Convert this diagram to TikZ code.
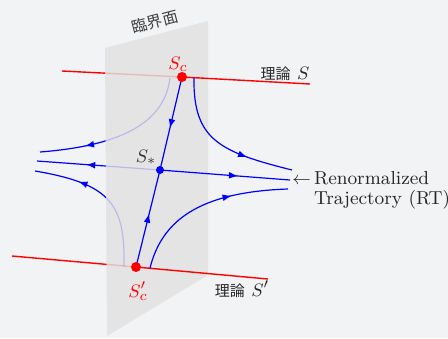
\documentclass[tikz,border=0pt]{standalone}
\usepackage{fontspec}
\newfontfamily\cjk{Noto Sans CJK JP}
\usetikzlibrary{arrows.meta,decorations.markings}
\definecolor{bgcol}{RGB}{242,243,245}
\definecolor{planecol}{RGB}{228,228,228}
\begin{document}
\begin{tikzpicture}[x=0.5pt,y=-0.5pt,
  font=\fontsize{9.4}{9.5}\selectfont,
  flow/.style={blue,line width=0.6pt},
  theory/.style={red,line width=0.7pt},
  hidden/.style={draw opacity=0.18},
  midarrow/.style={postaction={decorate},decoration={markings,mark=at position #1 with {\arrow{Latex[length=4.5pt,width=3.4pt]}}}},
  fixpt/.style={circle,fill,inner sep=0pt,minimum size=#1}]
% canvas
\fill[bgcol] (0,0) rectangle (448,338);
\useasboundingbox (0,0) rectangle (448,338);
% fixed points and line ends
\coordinate (Sc) at (182,77); \coordinate (Scp) at (136,267); \coordinate (Sst) at (160,170);
\coordinate (Sa) at (62,71); \coordinate (Sb) at (310,84);
\coordinate (Spa) at (12,256); \coordinate (Spb) at (268,279);
\coordinate (rta) at (37,161); \coordinate (rtb) at (290,180);
% flow curve ends
\coordinate (ula) at (170,78); \coordinate (ulb) at (40,152);
\coordinate (lla) at (124,266); \coordinate (llb) at (35,171);
\coordinate (ura) at (194,78); \coordinate (urb) at (292,170);
\coordinate (lra) at (150,268); \coordinate (lrb) at (288,189);
% behind the critical surface
\draw[theory] (Sa) -- (Sc);
\draw[theory] (Spa) -- (Scp);
\draw[flow,midarrow=0.6] (Sst) -- (rta);
\draw[flow,midarrow=0.72] (ula) .. controls (165,118) and (130,145) .. (ulb);
\draw[flow,midarrow=0.7] (lla) .. controls (125,205) and (112,184) .. (llb);
% critical surface (hidden parts seen through it)
\fill[planecol] (105,48) -- (208,21) -- (208,275) -- (107,336) -- cycle;
\begin{scope}
  \clip (105,48) -- (208,21) -- (208,275) -- (107,336) -- cycle;
  \draw[theory,hidden] (Sa) -- (Sc);
  \draw[theory,hidden] (Spa) -- (Scp);
  \draw[flow,hidden] (Sst) -- (rta);
  \draw[flow,hidden] (ula) .. controls (165,118) and (130,145) .. (ulb);
  \draw[flow,hidden] (lla) .. controls (125,205) and (112,184) .. (llb);
\end{scope}
\node[rotate=14.7,text=black!75,font=\cjk\fontsize{7.8}{8}\selectfont] (crit) at (155,22) {臨界面};
% in front of it
\draw[theory] (Sc) -- (Sb);
\draw[theory] (Scp) -- (Spb);
\draw[flow,midarrow=0.6] (Sst) -- (rtb);
\draw[flow,midarrow=0.55] (Sc) -- (Sst);
\draw[flow,midarrow=0.55] (Scp) -- (Sst);
\draw[flow,midarrow=0.69] (ura) .. controls (193,140) and (220,152) .. (urb);
\draw[flow,midarrow=0.67] (lra) .. controls (162,220) and (200,192) .. (lrb);
% dots
\node[fixpt=5pt,red] (nSc) at (Sc) {};
\node[fixpt=5pt,red] (nScp) at (Scp) {};
\node[fixpt=4pt,blue] (nSst) at (Sst) {};
% labels
\node[red] (lSc) at (178,64) {$S_c$};
\node[red] (lScp) at (138,291) {$S'_c$};
\node[text=black!80] (lSst) at (146,157) {$S_*$};
\node[text=black!85] (thS) at (285,74) {{\cjk\fontsize{7.5}{8}\selectfont 理論} $S$};
\node[text=black!85] (thSp) at (242,289) {{\cjk\fontsize{7.5}{8}\selectfont 理論} $S'$};
\node[anchor=west,inner sep=0pt,text=black!85] (rt) at (292,191)
  {\begin{tabular}{@{}l@{\,}l@{}}$\leftarrow$&Renormalized\\&Trajectory (RT)\end{tabular}};
\end{tikzpicture}
\end{document}
